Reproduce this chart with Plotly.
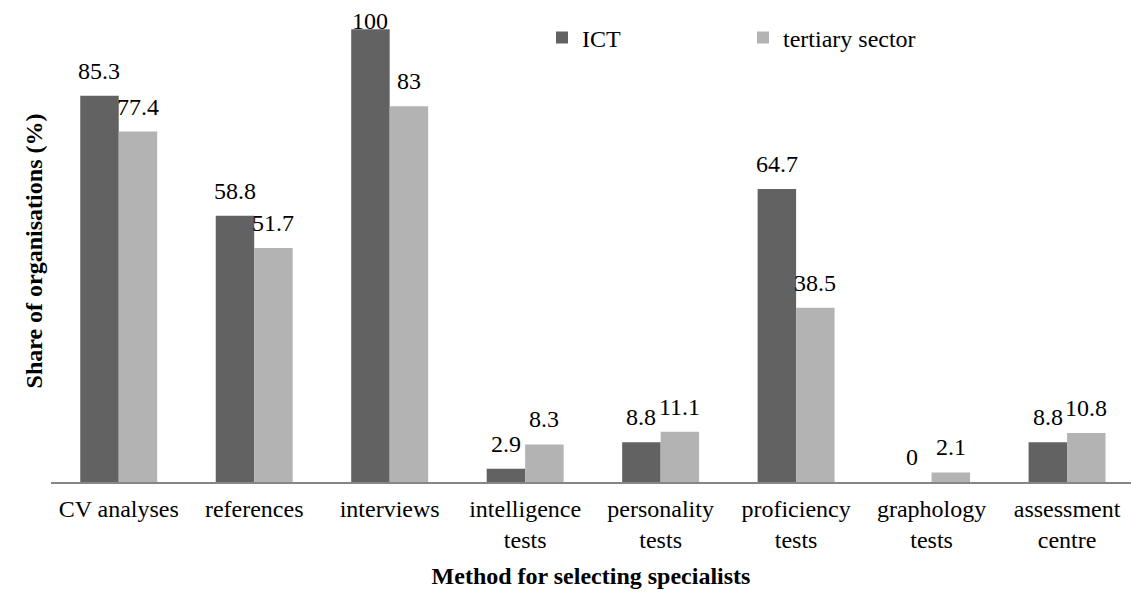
import plotly.graph_objects as go

categories = ["CV analyses", "references", "interviews", "intelligence<br>tests",
              "personality<br>tests", "proficiency<br>tests", "graphology<br>tests",
              "assessment<br>centre"]
ict = [85.3, 58.8, 100, 2.9, 8.8, 64.7, 0, 8.8]
tertiary = [77.4, 51.7, 83, 8.3, 11.1, 38.5, 2.1, 10.8]
series_names = ["ICT", "tertiary sector"]

FONT = "Liberation Serif"
C_ICT = "#626262"
C_TER = "#b3b3b3"

W, H = 1131, 592
ML, MR, MT, MB = 51, 0, 20, 110
YMAX = 102.05
plot_h = H - MT - MB
plot_w = W - ML - MR
ppu = plot_h / YMAX

fig = go.Figure()
fig.add_trace(go.Bar(x=categories, y=ict, name=series_names[0], marker_color=C_ICT,
                     marker_line_width=0))
fig.add_trace(go.Bar(x=categories, y=tertiary, name=series_names[1], marker_color=C_TER,
                     marker_line_width=0))

bar_w = 38.5
annotations = []
for vals, off in ((ict, -bar_w / 2), (tertiary, bar_w / 2)):
    for c, v in zip(categories, vals):
        ys = min(10, (YMAX - v) * ppu - 16)
        annotations.append(dict(x=c, y=v, text=f"{v:g}", showarrow=False,
                                xref="x", yref="y", xanchor="center", yanchor="bottom",
                                xshift=off, yshift=ys,
                                font=dict(family=FONT, size=24, color="#000")))

fig.update_layout(
    width=W, height=H,
    margin=dict(l=ML, r=MR, t=MT, b=MB, autoexpand=False),
    paper_bgcolor="white", plot_bgcolor="white",
    barmode="group", bargap=0.432, bargroupgap=0,
    font=dict(family=FONT, size=24, color="#000"),
    showlegend=True,
    legend=dict(orientation="h", x=(542 - ML) / plot_w, xanchor="left",
                y=1 + (MT - 38) / plot_h, yanchor="middle",
                font=dict(family=FONT, size=24, color="#000"),
                entrywidth=156, bgcolor="rgba(0,0,0,0)", itemclick=False),
    annotations=annotations,
    xaxis=dict(range=[-0.5, 7.472], showline=True, linecolor="#868686", linewidth=2,
               ticks="", showgrid=False, ticklabelstandoff=4,
               tickfont=dict(family=FONT, size=24, color="#000"),
               title=dict(text="<b>Method for selecting specialists</b>",
                          font=dict(family=FONT, size=24, color="#000"), standoff=15),
               automargin=False, fixedrange=True),
    yaxis=dict(range=[0, YMAX], showline=False, showticklabels=False, ticks="",
               showgrid=False, zeroline=False,
               title=dict(text="<b>Share of organisations (%)</b>",
                          font=dict(family=FONT, size=24, color="#000"), standoff=0),
               automargin=False, fixedrange=True),
)

fig.write_html("out.html", config={"displayModeBar": False},
               post_script="document.body.style.margin='0';document.body.style.overflow='hidden';")
